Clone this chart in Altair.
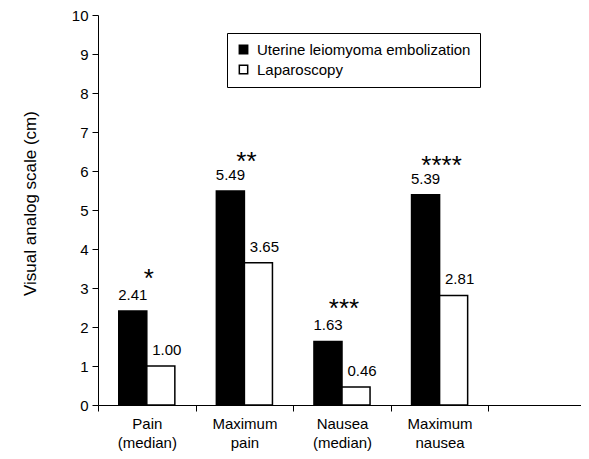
import altair as alt
import pandas as pd

categories = ["Pain|(median)", "Maximum|pain", "Nausea|(median)", "Maximum|nausea"]
slots = categories + ["E"]
groups = ["Uterine leiomyoma embolization", "Laparoscopy"]
ule = [2.41, 5.49, 1.63, 5.39]
lap = [1.00, 3.65, 0.46, 2.81]
stars = ["*", "**", "***", "****"]
star_y = [3.4, 6.4, 2.65, 6.3]

rows = []
for c, a, b in zip(categories, ule, lap):
    rows.append({"cat": c, "grp": groups[0], "val": a, "lab": f"{a:.2f}"})
    rows.append({"cat": c, "grp": groups[1], "val": b, "lab": f"{b:.2f}"})
df = pd.DataFrame(rows)
sdf = pd.DataFrame({"cat": categories, "star": stars, "sy": star_y})

FONT = "Liberation Sans"

xaxis = alt.Axis(
    title=None, labelAngle=0, tickBand="extent", tickSize=6,
    labelPadding=5, labelLineHeight=19, labelFontSize=15, labelFont=FONT,
    labelColor="black", domainColor="black", tickColor="black",
    labelExpr="(datum.value == null || datum.value == 'E') ? '' : split(datum.value, '|')",
)
xscale = alt.Scale(domain=slots, paddingInner=0, paddingOuter=0, range=[0, 488])
yaxis = alt.Axis(
    values=list(range(11)), grid=False, tickSize=6, labelPadding=4,
    labelFontSize=15, labelFont=FONT, labelColor="black",
    domainColor="black", tickColor="black",
    title="Visual analog scale (cm)", titleFontSize=17, titleFontWeight="normal",
    titleFont=FONT, titleColor="black",
    titleX=-68, titleY=188, titleBaseline="middle", titleAngle=-90,
)
yscale = alt.Scale(domain=[0, 10])

xenc = alt.X("cat:N", scale=xscale, axis=xaxis)
xoff = alt.XOffset("grp:N", scale=alt.Scale(domain=groups, paddingInner=0, paddingOuter=0.74))
yenc = alt.Y("val:Q", scale=yscale, axis=yaxis)

base = alt.Chart(df)
bars = base.mark_bar(stroke="black", strokeWidth=1.5).encode(
    x=xenc,
    xOffset=xoff,
    y=yenc,
    color=alt.Color(
        "grp:N",
        scale=alt.Scale(domain=groups, range=["black", "white"]),
        legend=alt.Legend(
            title=None, orient="none", legendX=129, legendY=18,
            strokeColor="black", fillColor="white", padding=9,
            symbolType="square", symbolSize=70, symbolStrokeColor="black",
            symbolStrokeWidth=1.5, labelFontSize=15, labelFont=FONT,
            labelColor="black", rowPadding=4, labelOffset=6, labelLimit=0,
        ),
    ),
)

lab_black = base.transform_filter(alt.datum.grp == groups[0]).mark_text(
    font=FONT, fontSize=15, color="black", baseline="alphabetic", dy=-11
).encode(x=xenc, xOffset=xoff, y=yenc, text="lab:N")
lab_white = base.transform_filter(alt.datum.grp == groups[1]).mark_text(
    font=FONT, fontSize=15, color="black", baseline="alphabetic", dy=-11, dx=6
).encode(x=xenc, xOffset=xoff, y=yenc, text="lab:N")

star_layer = alt.Chart(sdf).mark_text(
    font=FONT, fontSize=26, color="black", baseline="alphabetic", dy=15, dx=2
).encode(
    x=alt.X("cat:N", scale=xscale, axis=xaxis),
    y=alt.Y("sy:Q", scale=yscale, axis=yaxis),
    text="star:N",
)

chart = (
    alt.layer(bars, lab_black, lab_white, star_layer)
    .properties(
        width=483, height=390,
        background="white",
        autosize=alt.AutoSizeParams(type="none"),
        padding={"left": 90, "top": 7, "right": 0, "bottom": 46},
    )
    .configure_view(stroke=None)
    .configure_axis(domainWidth=1, tickWidth=1)
)

chart.save("out.html", embed_options={"renderer": "svg", "actions": False})
